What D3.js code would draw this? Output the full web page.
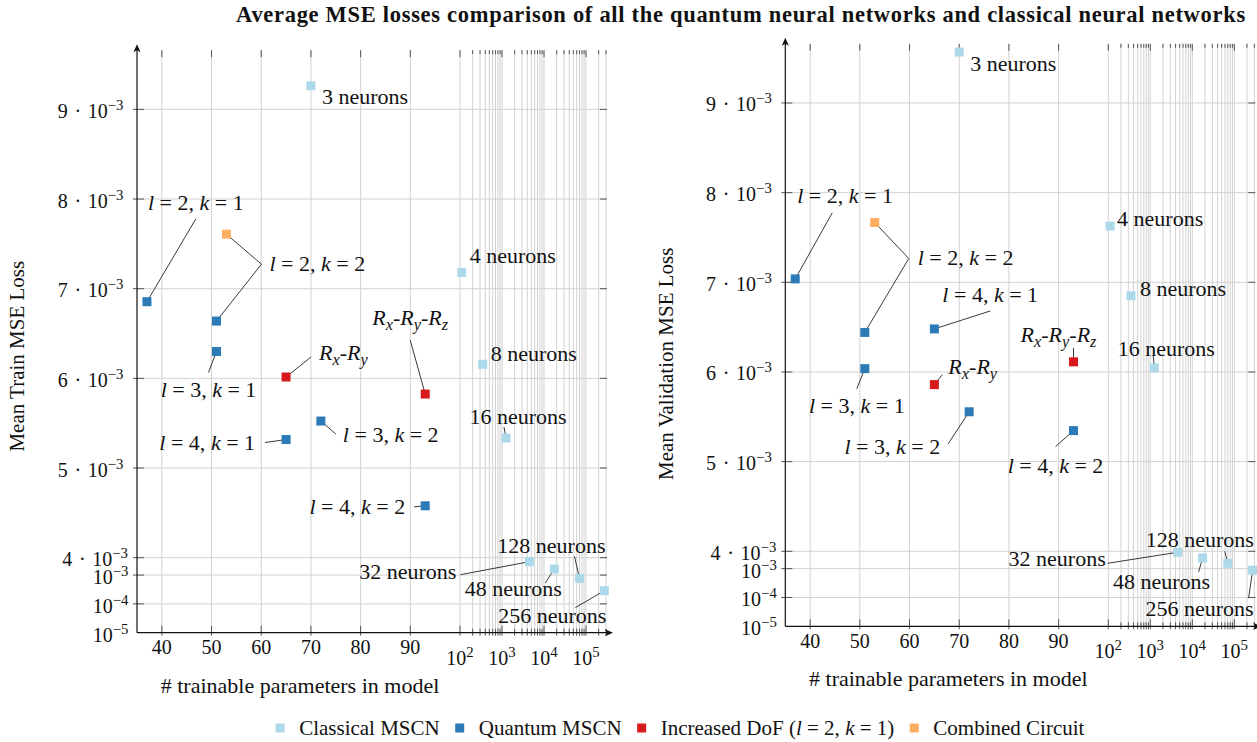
<!DOCTYPE html>
<html>
<head>
<meta charset="utf-8">
<script src="https://cdn.jsdelivr.net/npm/d3@7"></script>
<style>
  body { margin: 0; background: #fff; }
  text { font-family: "Liberation Serif", "DejaVu Serif", serif; fill: #111; }
  .grid line { stroke: #d2d2d2; stroke-width: 1; }
  .tick-mark line { stroke: #555; stroke-width: 1; }
  .pin { stroke: #222; stroke-width: 0.9; fill: none; }
</style>
</head>
<body>
<div id="chart"></div>
<script>
// ---- data ----
const classicalLabels = ['3 neurons', '4 neurons', '8 neurons', '16 neurons', '32 neurons', '48 neurons', '128 neurons', '256 neurons'];
const classicalParams = [70, 110, 347, 1245, 4500, 17600, 70000, 273000];
const classicalTrain = [9.263e-3, 7.182e-3, 6.157e-3, 5.335e-3, 2.91e-3, 1.62e-3, 7.7e-4, 2.87e-4];
const classicalVal = [9.568e-3, 7.627e-3, 6.85e-3, 6.046e-3, 3.7e-3, 2.36e-3, 1.53e-3, 8.8e-4];

const quantumLK = [[2, 1], [2, 2], [3, 1], [4, 1], [3, 2], [4, 2]];
const quantumParams = [37, 51, 51, 65, 72, 93];
const quantumTrain = [6.855e-3, 6.639e-3, 6.30e-3, 5.318e-3, 5.524e-3, 4.579e-3];
const quantumVal = [7.038e-3, 6.441e-3, 6.037e-3, 6.48e-3, 5.556e-3, 5.346e-3];

const dofGates = [['x', 'y'], ['x', 'y', 'z']];
const dofParams = [65, 93];
const dofTrain = [6.015e-3, 5.825e-3];
const dofVal = [5.859e-3, 6.113e-3];

const combinedLK = [[2, 2]];
const combinedParams = [53];
const combinedTrain = [7.608e-3];
const combinedVal = [7.667e-3];

const xLinTicks = [40, 50, 60, 70, 80, 90];
const xLogTicks = [1e2, 1e3, 1e4, 1e5];
const yLinTicks = [4e-3, 5e-3, 6e-3, 7e-3, 8e-3, 9e-3];
const yLogTicks = [1e-5, 1e-4, 1e-3];

const legendNames = ['Classical MSCN', 'Quantum MSCN', 'Increased DoF', 'Combined Circuit'];
const colors = ['#abd9e9', '#2c7bb6', '#d7191c', '#fdae61'];

// ---- layout ----
const W = 1257, H = 742;
const linW = 323, logW = 147, plotW = linW + logW;
const linH = 507.5, logH = 75, plotH = linH + logH;
const xMax = Math.pow(10, 5.5), yMax = 9.66e-3;
const fs = 20, sq = 9;

// label placement (pixel offsets from each point): text dx/dy, anchor, pin end lx/ly
const layoutTrain = {
  classical: [
    {dx: 11, dy: 11}, {dx: 8, dy: -16}, {dx: 8, dy: -10},
    {dx: 12, dy: -21, a: 'middle', lx: -2, ly: -11},
    {dx: -73, dy: 10, a: 'end', lx: -69, ly: 13},
    {dx: -41, dy: 20, a: 'middle', lx: -9, ly: 14},
    {dx: 26, dy: -32, a: 'end', lx: -5, ly: -22},
    {dx: 2, dy: 25, a: 'end', lx: -29, ly: 17}
  ],
  quantum: [
    {dx: 1, dy: -99, lx: 49, ly: -83},
    {none: true, lx: 45, ly: -57},
    {dx: -8, dy: 39, a: 'middle', lx: -8, ly: 21},
    {dx: -31, dy: 3, a: 'end', lx: -21, ly: 3},
    {dx: 22, dy: 14, lx: 15, ly: 13},
    {dx: -20, dy: 1, a: 'end', lx: -11, ly: 1}
  ],
  dof: [
    {dx: 33, dy: -24, lx: 25, ly: -20},
    {dx: -15, dy: -76, a: 'middle', lx: -15, ly: -54}
  ],
  combined: [{dx: 43, dy: 30, lx: 35, ly: 30}]
};

const layoutVal = {
  classical: [
    {dx: 11, dy: 12}, {dx: 7, dy: -7}, {dx: 9, dy: -7},
    {dx: 12, dy: -19, a: 'middle', lx: -1, ly: -12},
    {dx: -72, dy: 7, a: 'end', lx: -70, ly: 11},
    {dx: -41, dy: 24, a: 'middle', lx: -4, ly: 14},
    {dx: 26, dy: -23, a: 'end', lx: -3, ly: -12},
    {dx: 1, dy: 39, a: 'end', lx: -4, ly: 28}
  ],
  quantum: [
    {dx: 2, dy: -83, lx: 37, ly: -66},
    {none: true, lx: 44, ly: -74},
    {dx: -8, dy: 37, a: 'middle', lx: -8, ly: 20},
    {dx: 8, dy: -34, lx: 56, ly: -18},
    {dx: -29, dy: 35, a: 'end', lx: -21, ly: 32},
    {dx: -18, dy: 35, a: 'middle', lx: -18, ly: 16}
  ],
  dof: [
    {dx: 14, dy: -18, lx: 8, ly: -10},
    {dx: -15, dy: -27, a: 'middle', lx: 0, ly: -14}
  ],
  combined: [{dx: 43, dy: 36, lx: 34, ly: 36}]
};

// ---- helpers ----
function rich(sel, parts, size) {
  let cur = 0;
  parts.forEach(p => {
    const target = p.sub ? 5 : p.sup ? -8 : 0;
    const ts = sel.append('tspan').text(p.t);
    if (target !== cur) ts.attr('dy', target - cur);
    cur = target;
    if (p.i) ts.attr('font-style', 'italic');
    if (p.sub || p.sup) ts.attr('font-size', size * 0.74);
  });
  return sel;
}
const lkParts = ([l, k]) => [{t: 'l', i: 1}, {t: ` = ${l}, `}, {t: 'k', i: 1}, {t: ` = ${k}`}];
const gateParts = gs => gs.flatMap((s, j) => (j ? [{t: '-'}] : []).concat([{t: 'R', i: 1}, {t: s, i: 1, sub: 1}]));

const svg = d3.select('#chart').append('svg').attr('width', W).attr('height', H);

function drawPanel(cfg) {
  const g = svg.append('g').attr('transform', `translate(${cfg.ox},${cfg.oy})`);
  const xLin = d3.scaleLinear().domain([35, 100]).range([0, linW]);
  const xLog = d3.scaleLog().domain([100, xMax]).range([linW, plotW]);
  const x = v => v <= 100 ? xLin(v) : xLog(v);
  const yLin = d3.scaleLinear().domain([4e-3, yMax]).range([linH, 0]);
  const yLog = d3.scaleLog().domain([1e-5, 4e-3]).range([plotH, linH]);
  const y = v => v >= 4e-3 ? yLin(v) : yLog(v);

  const xGrid = xLinTicks.concat(xLog.ticks());
  const yGrid = yLinTicks.concat(yLogTicks.slice(1));

  // grid
  const grid = g.append('g').attr('class', 'grid');
  grid.selectAll('.vx').data(xGrid).join('line').attr('class', 'vx')
    .attr('x1', x).attr('x2', x).attr('y1', 0).attr('y2', plotH);
  grid.selectAll('.hy').data(yGrid).join('line').attr('class', 'hy')
    .attr('x1', 0).attr('x2', plotW).attr('y1', y).attr('y2', y);

  // tick marks
  const tm = g.append('g').attr('class', 'tick-mark');
  const isMajor = v => v <= 100 || xLogTicks.includes(v);
  tm.selectAll('.bt').data(xGrid).join('line').attr('class', 'bt')
    .attr('x1', x).attr('x2', x).attr('y1', plotH + 3).attr('y2', d => plotH - (isMajor(d) ? 7 : 4));
  tm.selectAll('.tt').data(xGrid).join('line').attr('class', 'tt')
    .attr('x1', x).attr('x2', x).attr('y1', 0).attr('y2', d => isMajor(d) ? 7 : 4);
  tm.selectAll('.lt').data(yGrid).join('line').attr('class', 'lt')
    .attr('x1', -4).attr('x2', 7).attr('y1', y).attr('y2', y);
  tm.selectAll('.rt').data(yGrid).join('line').attr('class', 'rt')
    .attr('x1', plotW - 7).attr('x2', plotW).attr('y1', y).attr('y2', y);

  // axes with arrows
  g.append('line').attr('x1', 0).attr('x2', 0).attr('y1', plotH).attr('y2', -2)
    .attr('stroke', '#111').attr('stroke-width', 1.2);
  g.append('line').attr('x1', 0).attr('x2', plotW + 2).attr('y1', plotH).attr('y2', plotH)
    .attr('stroke', '#111').attr('stroke-width', 1.2);
  g.append('path').attr('d', 'M0,-6 L-3.5,2 L0,0 L3.5,2 Z').attr('fill', '#111');
  g.append('path').attr('d', `M${plotW + 6},${plotH} L${plotW - 2},${plotH - 3.5} L${plotW},${plotH} L${plotW - 2},${plotH + 3.5} Z`).attr('fill', '#111');

  // tick labels
  xLinTicks.forEach(v => {
    g.append('text').attr('x', x(v)).attr('y', plotH + 21.5).attr('text-anchor', 'middle')
      .attr('font-size', fs).text(v);
  });
  xLogTicks.forEach(v => {
    rich(g.append('text').attr('x', x(v)).attr('y', plotH + 32).attr('text-anchor', 'middle')
      .attr('font-size', fs), [{t: '10'}, {t: String(Math.round(Math.log10(v))), sup: 1}], fs);
  });
  yLinTicks.forEach(v => {
    rich(g.append('text').attr('x', v === 4e-3 ? -9 : -13.5).attr('y', y(v) + 8.5).attr('text-anchor', 'end')
      .attr('font-size', fs), [{t: `${Math.round(v * 1000)}\u2004·\u200410`}, {t: '−3', sup: 1}], fs);
  });
  yLogTicks.forEach(v => {
    rich(g.append('text').attr('x', -8.5).attr('y', y(v) + 9).attr('text-anchor', 'end')
      .attr('font-size', fs), [{t: '10'}, {t: '−' + Math.round(-Math.log10(v)), sup: 1}], fs);
  });

  // axis titles
  g.append('text').attr('transform', `translate(${cfg.ytx},${cfg.yty}) rotate(-90)`)
    .attr('text-anchor', 'middle').attr('font-size', 21).text(cfg.ylabel);
  g.append('text').attr('x', 163).attr('y', plotH + 60).attr('text-anchor', 'middle')
    .attr('font-size', 22).text('# trainable parameters in model');

  // points
  const series = [
    {params: classicalParams, vals: cfg.classical, parts: classicalLabels.map(t => [{t}]), lay: cfg.layout.classical, color: colors[0]},
    {params: quantumParams, vals: cfg.quantum, parts: quantumLK.map(lkParts), lay: cfg.layout.quantum, color: colors[1]},
    {params: dofParams, vals: cfg.dof, parts: dofGates.map(gateParts), lay: cfg.layout.dof, color: colors[2]},
    {params: combinedParams, vals: cfg.combined, parts: combinedLK.map(lkParts), lay: cfg.layout.combined, color: colors[3]}
  ];
  const pts = series.flatMap(s => s.vals.map((v, i) => ({
    px: x(s.params[i]), py: y(v), parts: s.parts[i], lay: s.lay[i], color: s.color
  })));

  g.append('g').selectAll('line').data(pts.filter(d => d.lay.lx !== undefined)).join('line')
    .attr('class', 'pin')
    .attr('x1', d => d.px).attr('y1', d => d.py)
    .attr('x2', d => d.px + d.lay.lx).attr('y2', d => d.py + d.lay.ly);

  g.append('g').selectAll('rect').data(pts).join('rect')
    .attr('x', d => d.px - sq / 2).attr('y', d => d.py - sq / 2)
    .attr('width', sq).attr('height', sq).attr('fill', d => d.color);

  pts.filter(d => !d.lay.none).forEach(d => {
    rich(g.append('text')
      .attr('x', d.px + d.lay.dx).attr('y', d.py + d.lay.dy + 7)
      .attr('text-anchor', d.lay.a || 'start').attr('font-size', 22), d.parts, 22);
  });
}

drawPanel({
  ox: 137, oy: 50.2, ylabel: 'Mean Train MSE Loss', ytx: -113, yty: 306,
  classical: classicalTrain, quantum: quantumTrain, dof: dofTrain, combined: combinedTrain,
  layout: layoutTrain
});
drawPanel({
  ox: 785.3, oy: 43.8, ylabel: 'Mean Validation MSE Loss', ytx: -112, yty: 320,
  classical: classicalVal, quantum: quantumVal, dof: dofVal, combined: combinedVal,
  layout: layoutVal
});

// title
svg.append('text').attr('x', 741).attr('y', 22).attr('text-anchor', 'middle')
  .attr('font-size', 22.5).attr('font-weight', 'bold').attr('letter-spacing', 0.7)
  .text('Average MSE losses comparison of all the quantum neural networks and classical neural networks');

// legend
const legendParts = [
  [{t: legendNames[0]}], [{t: legendNames[1]}],
  [{t: legendNames[2] + ' ('}, {t: 'l', i: 1}, {t: ' = 2, '}, {t: 'k', i: 1}, {t: ' = 1)'}],
  [{t: legendNames[3]}]
];
const lg = svg.append('g');
let cx = 0;
legendParts.forEach((parts, i) => {
  lg.append('rect').attr('x', cx).attr('y', -sq / 2).attr('width', sq).attr('height', sq).attr('fill', colors[i]);
  const t = rich(lg.append('text').attr('x', cx + sq + 14.5).attr('y', 7).attr('font-size', 21), parts, 21);
  cx += sq + 14.5 + t.node().getComputedTextLength() + 15.5;
});
lg.attr('transform', `translate(${680 - (cx - 15.5) / 2},728)`);
</script>
</body>
</html>
